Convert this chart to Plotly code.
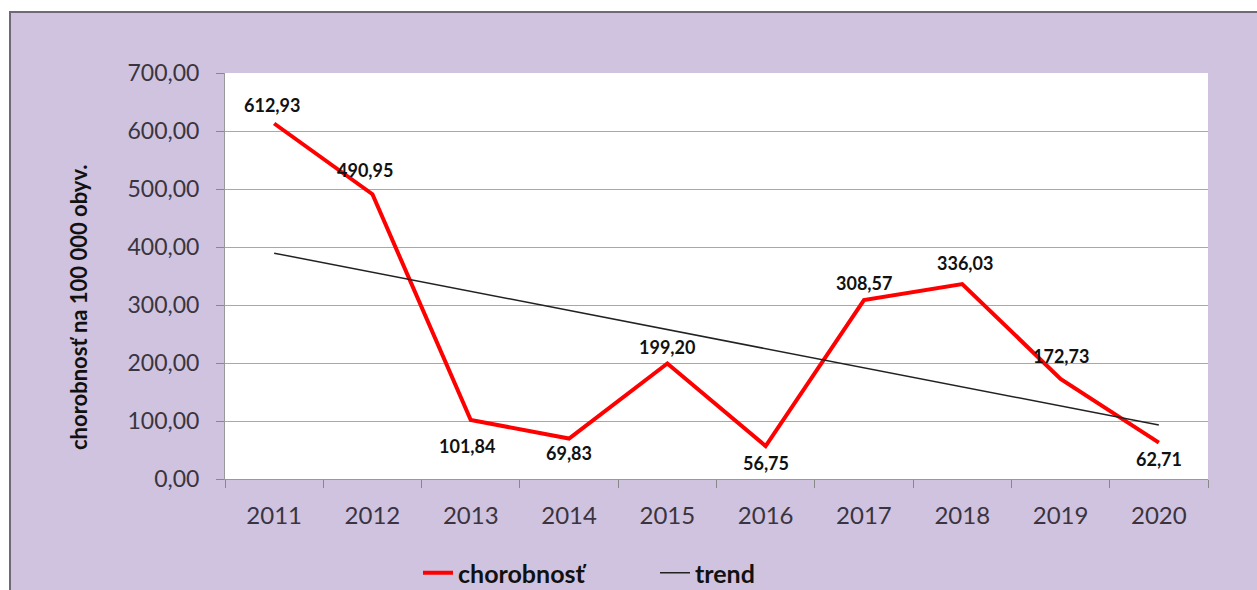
import plotly.graph_objects as go

roky = ["2011", "2012", "2013", "2014", "2015", "2016", "2017", "2018", "2019", "2020"]
chorobnost = [612.93, 490.95, 101.84, 69.83, 199.20, 56.75, 308.57, 336.03, 172.73, 62.71]
trend_roky = ["2011", "2020"]
trend_hodnoty = [389.38, 92.93]
y_ticky = [0, 100, 200, 300, 400, 500, 600, 700]

# posun popiskov (px) - len styl
posun_y = [19, 24, -26, -14, 16, -17, 17, 21, 23, -16]
posun_x = [-2, -7, -4, 0, 0, 0, 0, 3, 0, 0]

FIALOVA = "#CFC3DF"
PISMO = "Lato"
W, H = 1257, 590
L, R, T, B = 225, 1208, 73, 479  # plocha grafu v pixeloch


def px_x(p):
    return (p - L) / (R - L)


def px_y(p):
    return (B - p) / (B - T)


fig = go.Figure()

fig.add_trace(go.Scatter(
    x=roky, y=chorobnost, name="chorobnosť", mode="lines",
    line=dict(color="#FF0000", width=4),
))
fig.add_trace(go.Scatter(
    x=trend_roky, y=trend_hodnoty, name="trend", mode="lines",
    line=dict(color="#222222", width=1.5),
))

# popisky hodnot (x ako index kategorie)
for i, (hodnota, dy, dx) in enumerate(zip(chorobnost, posun_y, posun_x)):
    fig.add_annotation(x=i, y=hodnota, text=f"{hodnota:.2f}".replace(".", ","),
                       showarrow=False, yshift=dy, xshift=dx,
                       font=dict(family=PISMO, size=18, color="#111111", weight="bold"))

# fialove pozadie s okrajom + biela plocha grafu
fig.add_shape(type="rect", xref="paper", yref="paper",
              x0=px_x(10), x1=px_x(1300), y0=px_y(640), y1=px_y(12),
              fillcolor=FIALOVA, line=dict(color="#6E6878", width=2), layer="below")
fig.add_shape(type="rect", xref="paper", yref="paper", x0=0, x1=1, y0=0, y1=1,
              fillcolor="white", line=dict(width=0), layer="below")

fig.add_annotation(text="<b>chorobnosť na 100 000 obyv.</b>", textangle=-90,
                   xref="paper", yref="paper", x=px_x(78), y=px_y(307),
                   xanchor="center", yanchor="middle",
                   showarrow=False, font=dict(family=PISMO, size=22, color="#111111"))

fig.update_layout(
    width=W, height=H,
    margin=dict(l=L, r=W - R, t=T, b=H - B, autoexpand=False),
    paper_bgcolor="white",
    plot_bgcolor="white",
    separators=",.",
    showlegend=True,
    legend=dict(orientation="h", x=px_x(418), y=px_y(573), xanchor="left", yanchor="middle",
                font=dict(family=PISMO, size=25, color="#111111", weight="bold"),
                entrywidth=192, bgcolor="rgba(0,0,0,0)"),
    xaxis=dict(type="category", tickson="boundaries", ticks="outside", ticklen=8,
               tickcolor="#888888", showline=True, linecolor="#999999", linewidth=1,
               showgrid=False, range=[-0.5, 9.5], ticklabelstandoff=15,
               tickfont=dict(family=PISMO, size=24, color="#3A3440")),
    yaxis=dict(range=[0, 700], tickvals=y_ticky, tickformat=".2f", ticks="outside", ticklen=8,
               tickcolor="#888888", showline=True, linecolor="#999999", linewidth=1,
               gridcolor="#A8A8A8", gridwidth=1, zeroline=False, ticklabelstandoff=12,
               tickfont=dict(family=PISMO, size=23, color="#3A3440")),
)

fig.write_html("out.html", config={"displayModeBar": False},
               post_script="document.body.style.margin='0';")
